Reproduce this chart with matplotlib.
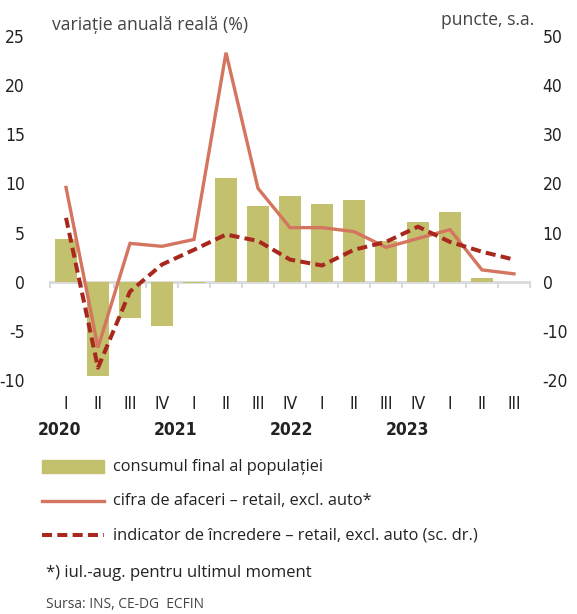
import matplotlib.pyplot as plt
import numpy as np

plt.rcParams['axes.unicode_minus'] = False

quarters = ['I', 'II', 'III', 'IV', 'I', 'II', 'III', 'IV',
            'I', 'II', 'III', 'IV', 'I', 'II', 'III']
years = ['2020', '2021', '2022', '2023']
consum = [4.3, -9.6, -3.7, -4.5, -0.1, 10.6, 7.7, 8.7,
          7.9, 8.3, 4.1, 6.1, 7.1, 0.4, np.nan]
cifra = [9.6, -6.7, 3.9, 3.6, 4.3, 23.3, 9.5, 5.5,
         5.5, 5.1, 3.5, 4.4, 5.3, 1.2, 0.8]
incredere = [13.0, -17.5, -2.0, 3.5, 6.5, 9.6, 8.3, 4.5,
             3.3, 6.5, 8.1, 11.2, 8.1, 6.1, 4.5]

BAR = '#c3c06e'
LINE = '#d4765f'
DASH = '#a8281e'
TXT = '#222222'

tick_font = ['DejaVu Sans']
text_font = ['Open Sans', 'DejaVu Sans']
tick_kw = dict(family=tick_font, fontsize=12.5, stretch='condensed', color=TXT)

fig = plt.figure(figsize=(5.77, 6.14), dpi=100)
ax = fig.add_axes([50 / 577, 1 - 380 / 614, 480 / 577, 344 / 614])
ax2 = ax.twinx()

x = np.arange(len(quarters))
ax.bar(x, consum, width=0.68, color=BAR, zorder=2)
ax.plot(x, cifra, color=LINE, lw=2.4, zorder=3, solid_joinstyle='miter')
ax2.plot(x, incredere, color=DASH, lw=2.9, dashes=(2.5, 1.3), zorder=4)

ax.set_xlim(-0.5, len(quarters) - 0.5)
ax.set_ylim(-10, 25)
ax2.set_ylim(-20, 50)
ax.set_yticks(range(-10, 26, 5))
ax2.set_yticks(range(-20, 51, 10))

for a in (ax, ax2):
    for s in a.spines.values():
        s.set_visible(False)
    a.tick_params(axis='y', length=0)
ax.tick_params(axis='y', pad=18)
ax2.tick_params(axis='y', pad=9)
ax.set_yticklabels([str(v) for v in range(-10, 26, 5)], **tick_kw)
ax2.set_yticklabels([str(v) for v in range(-20, 51, 10)], **tick_kw)

# zero line with boundary ticks
ax.axhline(0, color='#d9d9d9', lw=2, zorder=1)
for b in np.arange(-0.5, len(quarters), 1):
    ax.plot([b, b], [0, -0.5], color='#d9d9d9', lw=1.5, zorder=1, clip_on=False)

ax.set_xticks(x)
ax.set_xticklabels(quarters, **tick_kw)
ax.tick_params(axis='x', length=0, pad=11)

trans = ax.get_xaxis_transform()
for i, yr in enumerate(years):
    ax.text(-0.19 + 3.62 * i, -0.145, yr, transform=trans, ha='center', va='center',
            fontweight='bold', **tick_kw)

fig.text(52 / 577, 1 - 25 / 614, 'variație anuală reală (%)', family=text_font,
         fontsize=12.7, color='#444444', va='center')
fig.text(534 / 577, 1 - 20 / 614, 'puncte, s.a.', family=text_font,
         fontsize=12.7, color='#444444', va='center', ha='right')

# legend
lx0, lx1, tx = 42 / 577, 104 / 577, 113 / 577
rows = [1 - 467 / 614, 1 - 501 / 614, 1 - 535 / 614]
fig.patches.append(plt.Rectangle((lx0, rows[0] - 6 / 614), lx1 - lx0, 13 / 614,
                                 transform=fig.transFigure, color=BAR))
fig.add_artist(plt.Line2D([lx0, lx1], [rows[1], rows[1]], color=LINE, lw=2.4,
                          transform=fig.transFigure))
fig.add_artist(plt.Line2D([lx0, lx1], [rows[2], rows[2]], color=DASH, lw=2.9,
                          dashes=(2.5, 1.3), transform=fig.transFigure))
labels = ['consumul final al populației',
          'cifra de afaceri – retail, excl. auto*',
          'indicator de încredere – retail, excl. auto (sc. dr.)']
for r, t in zip(rows, labels):
    fig.text(tx, r, t, family=text_font, fontsize=11.8, color=TXT, va='center')

fig.text(46 / 577, 1 - 573 / 614, '*) iul.-aug. pentru ultimul moment', family=text_font,
         fontsize=12, color=TXT, va='center')
fig.text(46 / 577, 1 - 604 / 614, 'Sursa: INS, CE-DG  ECFIN', family=text_font,
         fontsize=9.9, color='#444444', va='center')

fig.savefig('out.png', dpi=100)
